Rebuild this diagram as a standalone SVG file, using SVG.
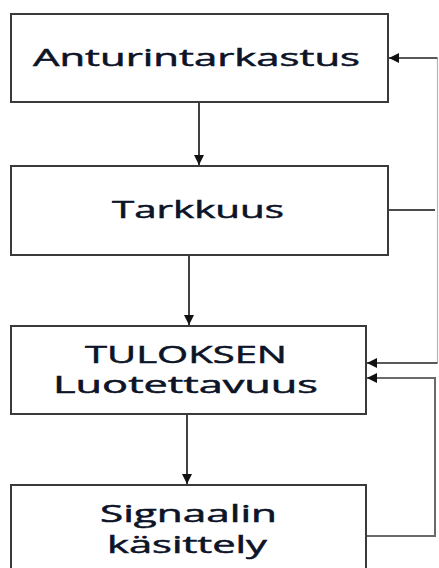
<svg xmlns="http://www.w3.org/2000/svg" width="439" height="568" viewBox="0 0 439 568">
  <style>
    .box { fill: #ffffff; stroke: #3a3a3a; stroke-width: 2; }
    .lbl { font-family: "Open Sans", "Noto Sans", sans-serif; font-size: 23px; fill: #0d1428; stroke: #0d1428; stroke-width: 0.5; }
    .wire { fill: none; stroke: #111111; stroke-width: 1.6; }
    .wire-thin { fill: none; stroke: #222222; stroke-width: 1.4; }
    .wire-grey { fill: none; stroke: #b5b5b5; stroke-width: 1.2; }
    .wire-loop { fill: none; stroke: #6a6a6a; stroke-width: 2; }
  </style>
  <defs>
    <marker id="head" viewBox="0 0 10 10" refX="10" refY="5" markerWidth="12" markerHeight="10" markerUnits="userSpaceOnUse" orient="auto">
      <path d="M0,0 L10,5 L0,10 Z" fill="#111111"/>
    </marker>
  </defs>

  <rect width="439" height="568" fill="#ffffff"/>

  <g id="connectors">
    <!-- main vertical flow -->
    <line class="wire" x1="199" y1="103" x2="199" y2="165" marker-end="url(#head)"/>
    <line class="wire" x1="189" y1="256" x2="189" y2="325" marker-end="url(#head)"/>
    <line class="wire" x1="187" y1="415" x2="187" y2="484" marker-end="url(#head)"/>
    <!-- feedback bus on the right -->
    <line class="wire-grey" x1="437.5" y1="58" x2="437.5" y2="363"/>
    <line class="wire-thin" x1="437.5" y1="58" x2="389" y2="58" marker-end="url(#head)"/>
    <line class="wire" x1="389" y1="210" x2="435" y2="210"/>
    <line class="wire-thin" x1="437.5" y1="363" x2="367" y2="363" marker-end="url(#head)"/>
    <!-- loop from signal processing back up -->
    <polyline class="wire-loop" points="367,536 435,536 435,378 367,378" marker-end="url(#head)"/>
  </g>

  <g id="anturintarkastus">
    <rect class="box" x="11" y="14" width="377" height="88"/>
    <text class="lbl" x="33" y="66" textLength="327" lengthAdjust="spacingAndGlyphs">Anturintarkastus</text>
  </g>

  <g id="tarkkuus">
    <rect class="box" x="11" y="166" width="377" height="89"/>
    <text class="lbl" x="112" y="218" textLength="172" lengthAdjust="spacingAndGlyphs">Tarkkuus</text>
  </g>

  <g id="tuloksen-luotettavuus">
    <rect class="box" x="11" y="326" width="355" height="88"/>
    <text class="lbl" x="85" y="363" textLength="202" lengthAdjust="spacingAndGlyphs">TULOKSEN</text>
    <text class="lbl" x="53" y="393" textLength="265" lengthAdjust="spacingAndGlyphs">Luotettavuus</text>
  </g>

  <g id="signaalin-kasittely">
    <rect class="box" x="11" y="485" width="355" height="95"/>
    <text class="lbl" x="100" y="522" textLength="177" lengthAdjust="spacingAndGlyphs">Signaalin</text>
    <text class="lbl" x="107" y="553" textLength="160" lengthAdjust="spacingAndGlyphs">käsittely</text>
  </g>
</svg>
